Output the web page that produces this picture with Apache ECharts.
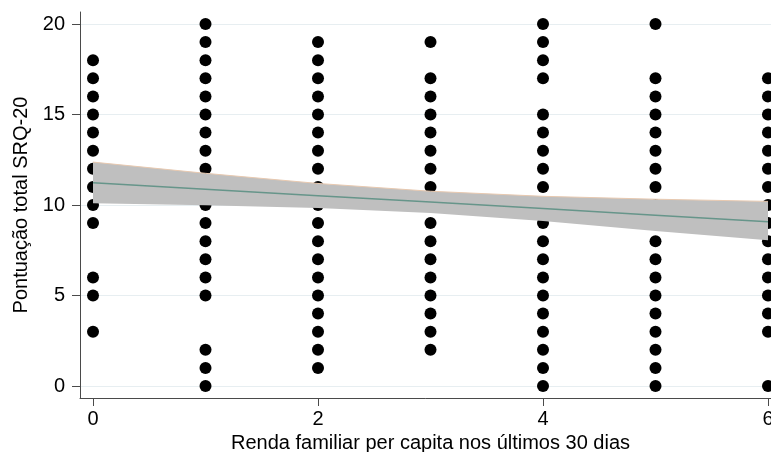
<!DOCTYPE html>
<html>
<head>
<meta charset="utf-8">
<script src="https://cdn.jsdelivr.net/npm/echarts@6/dist/echarts.min.js"></script>
<style>
  html, body { margin: 0; padding: 0; background: #fff; }
  #chart { width: 771px; height: 452px; }
</style>
</head>
<body>
<div id="chart"></div>
<script>
// Renda familiar per capita (categoria) e pontuação SRQ-20 observadas em cada nível
const incomeLevels = [0, 1, 2, 3, 4, 5, 6];
const scoresAt0 = [18, 17, 16, 15, 14, 13, 12, 11, 10, 9, 6, 5, 3];
const scoresAt1 = [20, 19, 18, 17, 16, 15, 14, 13, 12, 11, 10, 9, 8, 7, 6, 5, 2, 1, 0];
const scoresAt2 = [19, 18, 17, 16, 15, 14, 13, 12, 11, 10, 9, 8, 7, 6, 5, 4, 3, 2, 1];
const scoresAt3 = [19, 17, 16, 15, 14, 13, 12, 11, 10, 9, 8, 7, 6, 5, 4, 3, 2];
const scoresAt4 = [20, 19, 18, 17, 15, 14, 13, 12, 11, 10, 9, 8, 7, 6, 5, 4, 3, 2, 1, 0];
const scoresAt5 = [20, 17, 16, 15, 14, 13, 12, 11, 10, 9, 8, 7, 6, 5, 4, 3, 2, 1, 0];
const scoresAt6 = [17, 16, 15, 14, 13, 12, 11, 10, 9, 8, 7, 6, 5, 4, 3, 0];
const scoresByLevel = [scoresAt0, scoresAt1, scoresAt2, scoresAt3, scoresAt4, scoresAt5, scoresAt6];

// Reta ajustada e intervalo de confiança de 95%
const fitX = [0, 1, 2, 3, 4, 5, 6];
const fitY = [11.23, 10.87, 10.51, 10.16, 9.80, 9.44, 9.08];
const ciUpper = [12.37, 11.75, 11.19, 10.76, 10.48, 10.32, 10.20];
const ciLower = [10.09, 9.99, 9.83, 9.56, 9.12, 8.56, 8.05];

// Marcas dos eixos
const xTicks = [0, 2, 4, 6];
const yTicks = [0, 5, 10, 15, 20];

const points = [];
incomeLevels.forEach((lvl, i) => {
  scoresByLevel[i].forEach(s => points.push([lvl, s]));
});

const FONT = '"Liberation Sans", Arial, Helvetica, sans-serif';
const chart = echarts.init(document.getElementById('chart'), null, { renderer: 'canvas' });

chart.setOption({
  animation: false,
  backgroundColor: '#ffffff',
  grid: { left: 80, top: 12, width: 701, height: 386, containLabel: false, outerBoundsMode: 'none' },
  xAxis: {
    type: 'value',
    min: -0.1156,
    max: 6.1156,
    name: 'Renda familiar per capita nos últimos 30 dias',
    nameLocation: 'middle',
    nameGap: 32,
    nameTextStyle: { fontFamily: FONT, fontSize: 20, color: '#000' },
    axisLine: { show: true, onZero: false, lineStyle: { color: '#4a4a4a', width: 1 } },
    axisTick: { show: true, length: 8, customValues: xTicks, lineStyle: { color: '#4a4a4a' } },
    axisLabel: { customValues: xTicks, fontFamily: FONT, fontSize: 20, color: '#000', margin: 11 },
    splitLine: { show: false }
  },
  yAxis: {
    type: 'value',
    min: -0.663,
    max: 20.663,
    name: 'Pontuação total SRQ-20',
    nameLocation: 'middle',
    nameGap: 47,
    nameTextStyle: { fontFamily: FONT, fontSize: 20, color: '#000' },
    axisLine: { show: true, onZero: false, lineStyle: { color: '#4a4a4a', width: 1 } },
    axisTick: { show: true, length: 8, customValues: yTicks, lineStyle: { color: '#4a4a4a' } },
    axisLabel: { customValues: yTicks, fontFamily: FONT, fontSize: 20, color: '#000', margin: 15 },
    splitLine: { show: true, lineStyle: { color: '#e7eef1', width: 1 } }
  },
  series: [
    {
      type: 'scatter',
      data: points,
      symbol: 'circle',
      symbolSize: 12,
      itemStyle: { color: '#000000', opacity: 1 },
      z: 2,
      silent: true
    },
    {
      type: 'custom',
      data: [[0, 0]],
      z: 3,
      silent: true,
      renderItem: function (params, api) {
        const top = fitX.map((x, i) => api.coord([x, ciUpper[i]]));
        const bottom = fitX.map((x, i) => api.coord([x, ciLower[i]])).reverse();
        return {
          type: 'group',
          children: [
            {
              type: 'polygon',
              shape: { points: top.concat(bottom) },
              style: { fill: '#bfbfbf', stroke: null }
            },
            {
              type: 'polyline',
              shape: { points: top },
              style: { fill: null, stroke: '#e8c9b0', lineWidth: 1 }
            }
          ]
        };
      }
    },
    {
      type: 'line',
      data: fitX.map((x, i) => [x, fitY[i]]),
      symbol: 'none',
      lineStyle: { color: '#66958a', width: 1.5 },
      z: 4,
      silent: true
    }
  ]
});
</script>
</body>
</html>
